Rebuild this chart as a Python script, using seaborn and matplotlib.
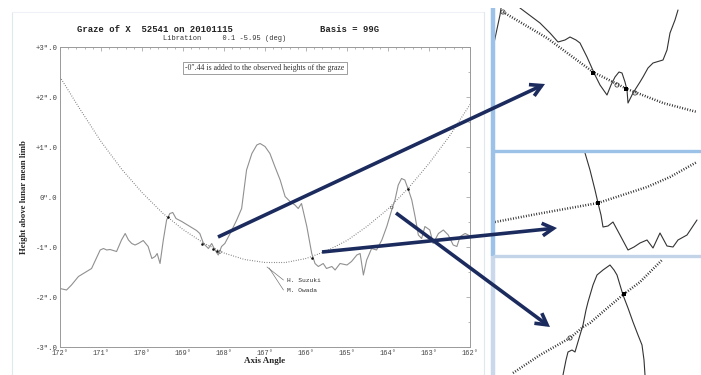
import numpy as np
import pandas as pd
import matplotlib
matplotlib.use('Agg')
import matplotlib.pyplot as plt
import seaborn as sns
from matplotlib.ticker import MultipleLocator, FixedLocator

# --- main graze profile (axis angle in deg, height in arcsec) ---
limb_angle = [172.0, 171.5, 171.0, 170.5, 170.0, 169.5, 169.0, 168.5, 168.0, 167.5, 167.0,
              166.5, 166.0, 165.5, 165.0, 164.5, 164.0, 163.5, 163.0, 162.5, 162.0]
limb_height = [2.40, 1.74, 1.11, 0.56, 0.09, -0.32, -0.65, -0.92, -1.12, -1.25, -1.31,
               -1.31, -1.23, -1.08, -0.87, -0.58, -0.24, 0.18, 0.67, 1.22, 1.85]

obs_angle = [172.0, 171.84, 171.72, 171.55, 171.35, 171.23, 171.02, 170.94, 170.86, 170.78,
             170.62, 170.5, 170.41, 170.33, 170.25, 170.17, 170.09, 169.97, 169.85, 169.76,
             169.68, 169.63, 169.56, 169.48, 169.4, 169.32, 169.25, 169.17, 169.03, 168.83,
             168.67, 168.59, 168.5, 168.38, 168.3, 168.22, 168.14, 168.06, 167.98, 167.85,
             167.69, 167.57, 167.45, 167.32, 167.2, 167.12, 167.0, 166.88, 166.76, 166.63,
             166.51, 166.39, 166.27, 166.19, 166.11, 165.98, 165.86, 165.78, 165.7, 165.58,
             165.5, 165.37, 165.29, 165.17, 165.0, 164.89, 164.76, 164.68, 164.6, 164.52,
             164.4, 164.28, 164.15, 164.03, 163.91, 163.83, 163.75, 163.67, 163.59, 163.5,
             163.42, 163.34, 163.26, 163.18, 163.1, 162.98, 162.9, 162.77, 162.65, 162.53,
             162.41, 162.32, 162.24, 162.12, 162.04]
obs_height = [-1.83, -1.86, -1.76, -1.59, -1.49, -1.43, -1.06, -1.03, -1.06, -1.05,
              -1.09, -0.86, -0.73, -0.86, -0.93, -0.96, -0.93, -0.87, -0.99, -1.23,
              -1.19, -1.13, -1.33, -0.86, -0.46, -0.33, -0.31, -0.43, -0.49, -0.59,
              -0.67, -0.73, -0.93, -1.03, -0.93, -1.06, -1.16, -0.99, -0.93, -0.73,
              -0.46, -0.23, 0.54, 0.87, 1.04, 1.07, 1.01, 0.87, 0.61, 0.34,
              0.01, -0.09, -0.16, -0.23, -0.13, -0.59, -1.13, -1.33, -1.39, -1.33,
              -1.43, -1.39, -1.46, -1.33, -1.36, -1.29, -1.16, -1.13, -1.56, -1.26,
              -1.03, -1.06, -0.86, -0.59, -0.26, -0.06, 0.24, 0.37, 0.34, 0.14,
              -0.06, -0.39, -0.76, -0.83, -0.59, -0.66, -0.93, -0.73, -0.66, -0.76,
              -0.96, -0.99, -0.79, -0.73, -0.76]

event_angle = [169.37, 168.54, 168.27, 168.17, 165.86, 163.5]
event_height = [-0.40, -0.94, -1.04, -1.08, -1.21, 0.16]
open_angle = [168.1, 163.91]
open_height = [-1.10, -0.21]

x_ticks = [172, 171, 170, 169, 168, 167, 166, 165, 164, 163, 162]
x_labels = [f'{t}\u00b0' for t in x_ticks]
y_ticks = [3, 2, 1, 0, -1, -2, -3]
y_labels = ['+3\u2033.0', '+2\u2033.0', '+1\u2033.0', '0\u2033.0', '-1\u2033.0', '-2\u2033.0', '-3\u2033.0']

observers = ['H. Suzuki', 'M. Owada']

# --- zoomed insets (local pixel units inside each panel) ---
top_limb_x = [10, 54, 100, 134, 170, 204]
top_limb_y = [12, 38, 72, 89, 103, 112]
top_obs_x = [1, 7, 10, 18, 27, 47, 57, 65, 72, 77, 83, 87, 94, 102, 107, 114, 118, 122, 126,
             129, 132, 134, 135, 140, 147, 150, 155, 160, 170, 174, 177, 182, 185]
top_obs_y = [43, 15, -5, -5, 8, 23, 33, 42, 40, 37, 40, 43, 57, 75, 85, 95, 85, 77, 72,
             73, 82, 90, 103, 93, 82, 77, 68, 63, 60, 50, 33, 20, 10]
top_sq_x, top_sq_y = [100, 133], [73, 89]
top_ci_x, top_ci_y = [10, 124, 142], [12, 85, 93]

mid_limb_x = [2, 44, 105, 154, 177, 204]
mid_limb_y = [69, 61, 50, 34, 24, 9]
mid_obs_x = [92, 97, 102, 105, 108, 110, 115, 120, 127, 135, 141, 147, 154, 160, 167, 174,
             180, 185, 194, 204]
mid_obs_y = [0, 17, 37, 50, 62, 74, 73, 69, 82, 97, 94, 90, 87, 95, 80, 93, 94, 87, 82, 67]
mid_sq_x, mid_sq_y = [105], [50]

bot_limb_x = [20, 47, 77, 90, 97, 112, 131, 147, 169]
bot_limb_y = [115, 97, 80, 69, 65, 52, 36, 24, 2]
bot_obs_x = [70, 73, 75, 79, 82, 87, 90, 93, 95, 100, 104, 110, 117, 121, 124, 127, 130, 135,
             140, 145, 149, 151, 152]
bot_obs_y = [117, 102, 94, 92, 94, 77, 67, 52, 44, 27, 17, 12, 7, 12, 17, 27, 37, 50,
             64, 77, 87, 102, 117]
bot_sq_x, bot_sq_y = [131], [36]
bot_ci_x, bot_ci_y = [77], [80]

# arrows (figure pixels, y downwards): start -> end
arrow_start = [(218, 237), (322, 252), (396, 213)]
arrow_end = [(545, 84), (557, 228), (550, 327)]

W, H = 701, 375
sns.set_style('white')
plt.rcParams['font.family'] = ['Liberation Serif', 'DejaVu Serif']
mono = ['Liberation Mono', 'DejaVu Sans Mono']

fig = plt.figure(figsize=(W / 100, H / 100), dpi=100)
fig.patch.set_facecolor('white')


def px_rect(x0, y0, x1, y1):
    return [x0 / W, 1 - y1 / H, (x1 - x0) / W, (y1 - y0) / H]


# --- main chart ---
ax = fig.add_axes(px_rect(60, 47, 470, 347))
sns.lineplot(x=limb_angle, y=limb_height, ax=ax, sort=False, estimator=None,
             color='#666666', lw=0.8, linestyle=(0, (0.7, 1.5)))
sns.lineplot(x=obs_angle, y=obs_height, ax=ax, sort=False, estimator=None,
             color='#909090', lw=0.8)
sns.scatterplot(x=event_angle, y=event_height, ax=ax, color='#111111', s=3.5, marker='o',
                linewidth=0, zorder=5)
sns.scatterplot(x=open_angle, y=open_height, ax=ax, facecolor='none', edgecolor='#555555',
                s=4, linewidth=0.4, zorder=5)
ax.set_xlim(172, 162)
ax.set_ylim(-3, 3)
ax.xaxis.set_major_locator(FixedLocator(x_ticks))
ax.set_xticklabels(x_labels, family=mono, fontsize=5, color='#444444')
ax.yaxis.set_major_locator(FixedLocator(y_ticks))
ax.set_yticklabels(y_labels, family=mono, fontsize=5.2, color='#444444')
ax.xaxis.set_minor_locator(MultipleLocator(0.2))
ax.yaxis.set_minor_locator(MultipleLocator(0.5))
ax.tick_params(which='both', direction='in', top=True, right=True, color='#999999',
               width=0.5, pad=2)
ax.tick_params(which='major', length=3)
ax.tick_params(which='minor', length=1.5)
for s in ax.spines.values():
    s.set_color('#999999')
    s.set_linewidth(0.7)
ax.set_xlabel('Axis Angle', fontsize=6.5, fontweight='bold', labelpad=0)
ax.set_ylabel('Height above lunar mean limb', fontsize=6.3, fontweight='bold', labelpad=5)

ax.text(0.5, 0.93, '-0\u2033.44 is added to the observed heights of the graze',
        transform=ax.transAxes, ha='center', va='center', fontsize=5.6, color='#333333',
        bbox=dict(boxstyle='square,pad=0.25', fc='white', ec='#777777', lw=0.5))

# observer labels with leader lines
for i, name in enumerate(observers):
    ly = -1.66 - 0.2 * i
    ax.plot([166.95 - 0.05 * i, 166.55], [-1.40 - 0.02 * i, ly], color='#777777', lw=0.5)
    ax.text(166.47, ly, name, family=mono, fontsize=4.5, va='center', color='#333333')

fig.text(77 / W, 1 - 29 / H, 'Graze of X  52541 on 20101115', family=mono,
         fontweight='bold', fontsize=6.4, va='center', color='#222222')
fig.text(320 / W, 1 - 29 / H, 'Basis = 99G', family=mono, fontweight='bold',
         fontsize=6.4, va='center', color='#222222')
fig.text(163 / W, 1 - 39 / H, 'Libration     0.1 -5.95 (deg)', family=mono,
         fontsize=5, va='center', color='#333333')


# --- insets ---
def inset(rect, w, h, limb, obs, sq, ci=None):
    a = fig.add_axes(px_rect(*rect))
    a.set_xlim(0, w)
    a.set_ylim(h, 0)
    a.axis('off')
    sns.lineplot(x=limb[0], y=limb[1], ax=a, sort=False, estimator=None, color='#222222',
                 lw=1.8, linestyle=(0, (0.35, 0.7)))
    sns.lineplot(x=obs[0], y=obs[1], ax=a, sort=False, estimator=None, color='#333333',
                 lw=0.8)
    sns.scatterplot(x=sq[0], y=sq[1], ax=a, color='black', marker='s', s=10, linewidth=0,
                    zorder=5)
    if ci is not None:
        sns.scatterplot(x=ci[0], y=ci[1], ax=a, facecolor='none', edgecolor='#444444',
                        s=9, linewidth=0.6, zorder=5)
    return a


inset((493, 8, 701, 149), 208, 141, (top_limb_x, [v - 8 for v in top_limb_y]),
      (top_obs_x, [v - 8 for v in top_obs_y]), (top_sq_x, [v - 8 for v in top_sq_y]),
      (top_ci_x, [v - 8 for v in top_ci_y]))
inset((493, 153, 701, 254), 208, 101, (mid_limb_x, mid_limb_y), (mid_obs_x, mid_obs_y),
      (mid_sq_x, mid_sq_y))
inset((493, 258, 701, 375), 208, 117, (bot_limb_x, bot_limb_y), (bot_obs_x, bot_obs_y),
      (bot_sq_x, bot_sq_y), (bot_ci_x, bot_ci_y))

# --- overlay: frames and arrows ---
ov = fig.add_axes([0, 0, 1, 1], zorder=10)
ov.set_xlim(0, W)
ov.set_ylim(H, 0)
ov.axis('off')
ov.patch.set_alpha(0)
ov.plot([12, 12], [12, H], color='#dfe7ef', lw=0.8)
ov.plot([12, 484], [12, 12], color='#eef2f6', lw=0.8)
ov.plot([484, 484], [12, H], color='#dfe7ef', lw=0.8)
ov.plot([493, 493], [8, 256], color='#9cc2e8', lw=3.2, solid_capstyle='butt')
ov.plot([493, 493], [256, H], color='#c9d8ea', lw=3.2, solid_capstyle='butt')
ov.plot([493, W], [151, 151], color='#9cc2e8', lw=2.4, solid_capstyle='butt')
ov.plot([493, W], [256, 256], color='#c3d4e8', lw=2.4, solid_capstyle='butt')
for (x0, y0), (x1, y1) in zip(arrow_start, arrow_end):
    ov.annotate('', xy=(x1, y1), xytext=(x0, y0),
                arrowprops=dict(arrowstyle='->,head_length=0.8,head_width=0.45',
                                color='#1c2b5e', lw=2.6, shrinkA=0, shrinkB=0,
                                joinstyle='miter', capstyle='butt'))

fig.savefig('out.png', dpi=100)
